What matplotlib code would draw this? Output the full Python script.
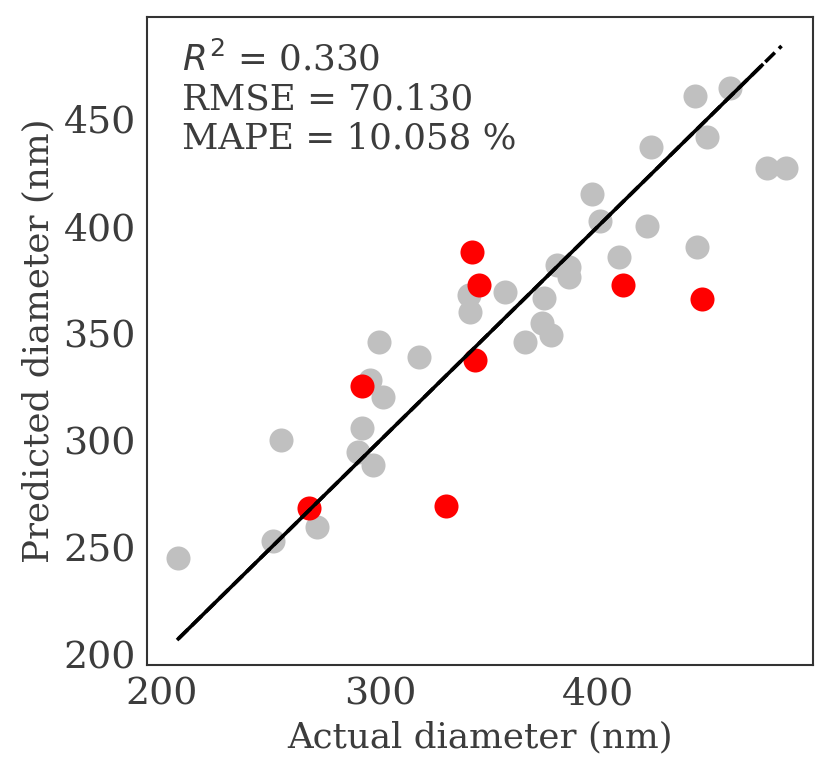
import matplotlib
matplotlib.use('Agg')
import matplotlib.pyplot as plt

# Data (nm)
gray_actual = [207.5, 251.0, 254.4, 270.9, 290.0, 291.6, 295.4, 296.9, 299.5, 301.5,
               318.0, 341.3, 340.8, 357.3, 366.5, 374.2, 378.4, 374.9, 381.0, 386.4,
               386.4, 397.1, 400.6, 409.3, 422.2, 424.3, 444.5, 445.3, 449.8, 460.5,
               477.4, 486.2]
gray_pred = [245.1, 253.1, 300.0, 259.7, 294.8, 305.7, 328.0, 288.6, 346.0, 320.1,
             339.0, 360.1, 367.9, 369.4, 346.0, 354.7, 349.2, 366.3, 381.9, 380.9,
             376.4, 414.8, 402.5, 385.7, 400.2, 437.1, 460.5, 390.1, 441.4, 464.3,
             427.0, 427.0]
red_actual = [267.5, 291.7, 330.3, 342.0, 343.3, 345.5, 411.3, 447.5]
red_pred = [268.6, 325.5, 269.6, 387.9, 337.6, 372.3, 372.3, 365.9]
line_ends = [207.5, 484.0]
x_ticks = [200, 300, 400]
y_ticks = [200, 250, 300, 350, 400, 450]
r2 = '0.330'
rmse = '70.130'
mape = '10.058'

txt = '#3c3c3c'
plt.rcParams['font.family'] = 'DejaVu Serif'
plt.rcParams['text.color'] = txt
plt.rcParams['axes.labelcolor'] = txt
plt.rcParams['xtick.color'] = txt
plt.rcParams['ytick.color'] = txt

fig = plt.figure(figsize=(8.3, 7.75), dpi=100)
ax = fig.add_axes([0.177, 0.142, 0.803, 0.836])

ax.scatter(gray_actual, gray_pred, s=300, color='#c0c0c0', linewidths=0, zorder=2)
ax.scatter(red_actual, red_pred, s=300, color='red', linewidths=0, zorder=3)
# solid 1:1 line, with a dashed tail showing at the top end
ax.plot([line_ends[0], line_ends[1] - 9], [line_ends[0], line_ends[1] - 9],
        color='black', lw=2.6, zorder=4)
ax.plot(line_ends, line_ends, color='black', lw=2.6, ls='--', zorder=4)

ax.set_xlim(193.1, 498.6)
ax.set_ylim(195.3, 497.5)
ax.set_xticks(x_ticks)
ax.set_yticks(y_ticks)
ax.tick_params(length=0, labelsize=27.3, pad=8)
for sp in ax.spines.values():
    sp.set_color('#333333')
    sp.set_linewidth(1.5)

ax.set_xlabel('Actual diameter (nm)', fontsize=25.7, labelpad=6)
ax.set_ylabel('Predicted diameter (nm)', fontsize=25.7, labelpad=6)

ax.text(0.053, 0.962, '$R^2$ = ' + r2 + '\nRMSE = ' + rmse + '\nMAPE = ' + mape + ' %',
        transform=ax.transAxes, ha='left', va='top', fontsize=25.7, linespacing=1.17)

fig.savefig('out.png', dpi=100)
